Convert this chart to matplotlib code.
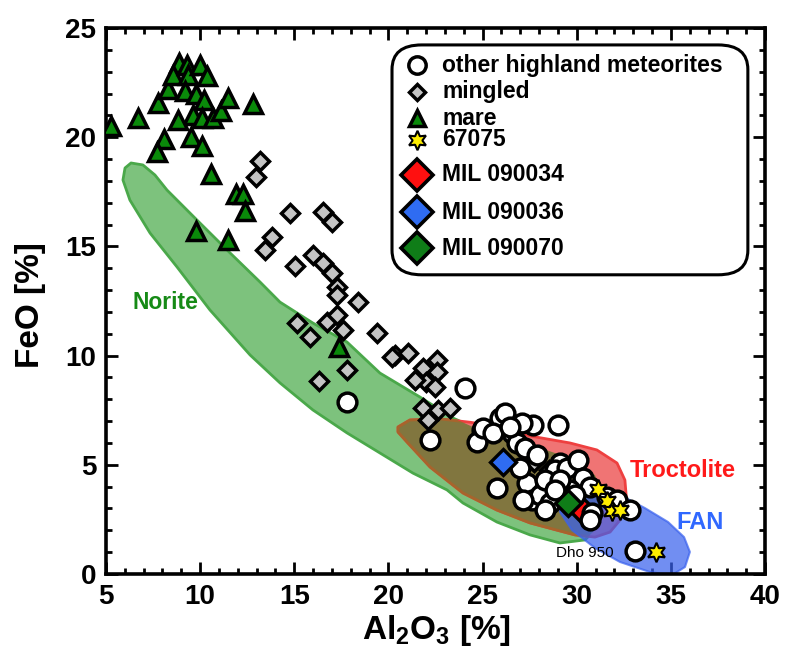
import numpy as np
import matplotlib
matplotlib.use("Agg")
import matplotlib.pyplot as plt
from matplotlib.patches import Polygon, FancyBboxPatch
from matplotlib.ticker import MultipleLocator

plt.rcParams['font.family'] = ['Liberation Sans', 'DejaVu Sans']
plt.rcParams['mathtext.fontset'] = 'custom'
plt.rcParams['mathtext.rm'] = 'Liberation Sans:bold'
plt.rcParams['mathtext.bf'] = 'Liberation Sans:bold'
plt.rcParams['mathtext.it'] = 'Liberation Sans:bold'

# ---- field outlines (Al2O3 %, FeO %) ----
norite_al = [6.33, 6.96, 7.60, 8.24, 9.99, 11.59, 13.18, 14.24, 15.99, 17.80, 19.55,
             21.68, 23.43, 24.86, 26.46, 28.05, 29.64, 30.97, 31.50, 31.23, 30.44,
             29.11, 27.52, 25.76, 23.96, 23.11, 21.30, 19.55, 17.80, 15.99, 14.24,
             12.65, 10.52, 8.77, 7.34, 6.27, 5.90, 6.01]
norite_fe = [18.82, 18.73, 18.27, 17.58, 16.07, 14.70, 13.37, 12.45, 11.49, 10.62, 9.20,
             8.10, 7.14, 6.59, 6.14, 5.77, 5.31, 4.53, 3.39, 2.24, 1.56,
             1.42, 1.79, 2.38, 3.25, 3.85, 4.62, 5.54, 6.46, 7.51, 8.75,
             10.03, 12.09, 14.06, 15.61, 17.12, 18.04, 18.59]

troct_al = [20.51, 21.14, 22.74, 24.33, 25.92, 27.52, 29.64, 31.07, 32.14, 32.56, 32.66,
            32.30, 31.77, 30.97, 29.91, 28.95, 27.52, 25.76, 23.96, 22.21, 20.99, 20.51]
troct_fe = [6.73, 7.05, 7.10, 6.95, 6.72, 6.32, 6.00, 5.68, 5.08, 4.30, 3.25,
            2.47, 1.92, 1.69, 1.79, 2.01, 2.34, 2.93, 3.71, 4.90, 6.04, 6.50]

fan_al = [29.91, 30.97, 32.30, 33.62, 34.85, 35.70, 36.01, 35.75, 35.06, 33.89, 32.30,
          30.97, 29.75, 29.11, 29.27]
fan_fe = [4.08, 3.94, 3.62, 3.02, 2.38, 1.69, 1.01, 0.32, -0.05, 0.09, 0.55,
          1.19, 2.01, 2.84, 3.62]

# ---- samples ----
mare_al = [5.25, 6.7, 7.78, 8.3, 8.9, 8.57, 9.3, 9.37, 10.0, 10.35, 9.2, 9.8, 10.2, 9.6,
           10.1, 10.7, 11.1, 11.5, 12.8, 8.8, 8.1, 7.7, 9.5, 10.1, 10.6, 11.9, 12.3,
           12.4, 9.8, 11.5, 17.4]
mare_fe = [20.5, 20.9, 21.55, 22.2, 23.4, 22.85, 23.3, 22.85, 23.3, 22.8, 22.1, 22.0, 21.7,
           21.0, 20.9, 20.9, 21.2, 21.8, 21.5, 20.8, 19.9, 19.3, 20.0, 19.6, 18.3, 17.4,
           17.4, 16.6, 15.7, 15.3, 10.4]

mingled_al = [13.18, 12.97, 14.77, 16.54, 16.98, 13.80, 13.44, 15.04, 16.01, 16.54, 16.98,
              17.25, 17.25, 18.40, 16.72, 17.25, 17.60, 15.13, 15.83, 19.37, 16.33, 17.78,
              20.35, 21.05, 20.17, 21.85, 22.56, 22.56, 22.02, 21.41, 22.47, 21.85, 22.65,
              23.27, 22.11, 27.73, 28.54]
mingled_fe = [18.92, 18.19, 16.52, 16.59, 16.13, 15.44, 14.84, 14.10, 14.61, 14.23, 13.77,
              13.15, 12.77, 12.47, 11.55, 11.86, 11.17, 11.48, 10.87, 11.02, 8.85, 9.34,
              10.03, 10.11, 9.95, 9.42, 9.80, 9.26, 8.81, 8.88, 8.58, 7.59, 7.51,
              7.59, 7.05, 5.14, 4.76]

highland_al = [17.78, 22.21, 24.07, 24.95, 24.69, 25.04, 25.92, 26.19, 25.57, 26.54, 26.81,
               27.25, 27.69, 29.02, 27.07, 25.74, 27.34, 27.61, 28.05, 27.16, 29.11, 28.84,
               29.46, 30.08, 30.35, 29.64, 29.11, 28.58, 28.31, 30.79, 31.59, 32.12,
               30.70, 26.46, 30.70, 32.83, 33.09, 27.9, 27.0, 28.3, 29.1, 28.85, 29.9]
highland_fe = [7.89, 6.14, 8.50, 6.59, 6.06, 6.67, 7.13, 7.36, 6.44, 6.44, 5.98,
               5.76, 6.82, 6.82, 6.90, 3.92, 4.15, 3.39, 3.62, 3.39, 5.07, 4.76,
               4.84, 5.22, 4.38, 3.85, 3.47, 3.24, 2.93, 2.78, 3.54, 3.39,
               4.00, 6.75, 2.47, 2.93, 1.07, 5.45, 4.85, 4.30, 4.30, 3.85, 3.60]

s67075_al = [31.14, 31.59, 31.86, 32.30, 34.19]
s67075_fe = [3.88, 3.34, 2.90, 2.93, 0.99]

mil034 = (30.22, 2.98)
mil036 = (26.10, 5.14)
mil070 = (29.55, 3.24)

xticks = [5, 10, 15, 20, 25, 30, 35, 40]
yticks = [0, 5, 10, 15, 20, 25]

# ---- figure ----
fig = plt.figure(figsize=(7.85, 6.61), dpi=100)
ax = fig.add_axes([106 / 785, 1 - 574 / 661, 659 / 785, 546 / 661])
ax.set_xlim(5, 40)
ax.set_ylim(0, 25)

nor = Polygon(np.column_stack([norite_al, norite_fe]), closed=True,
              fc='#7dc27d', ec='#4aa84a', lw=2, joinstyle='round', zorder=1)
ax.add_patch(nor)
tro = Polygon(np.column_stack([troct_al, troct_fe]), closed=True,
              fc='#f07474', ec='#ee4040', lw=2, joinstyle='round', zorder=1.5)
ax.add_patch(tro)
tro_in = Polygon(np.column_stack([troct_al, troct_fe]), closed=True,
                 fc='#81763f', ec='#a8642c', lw=2, joinstyle='round', zorder=1.6)
ax.add_patch(tro_in)
tro_in.set_clip_path(nor)
fan = Polygon(np.column_stack([fan_al, fan_fe]), closed=True,
              fc='#3a62ee', ec='#3a62ee', lw=1.5, alpha=0.72, joinstyle='round', zorder=1.7)
ax.add_patch(fan)

ax.plot(mingled_al, mingled_fe, 'D', ms=9.2, mfc='#c4c4c4', mec='black', mew=2.5, ls='none', zorder=3)
ax.plot(mare_al, mare_fe, '^', ms=13, mfc='#0a8a0a', mec='black', mew=2.5, ls='none', zorder=3.2)
ax.plot(*mil034, 'D', ms=13, mfc='#ff1010', mec='black', mew=2.4, zorder=3.5)
ax.plot(highland_al, highland_fe, 'o', ms=13.5, mfc='white', mec='black', mew=2.5, ls='none', zorder=4)
ax.plot(s67075_al, s67075_fe, marker=(6, 1, 0), ms=14, mfc='#ffee00', mec='black', mew=1.5,
        ls='none', zorder=5)
ax.plot(*mil036, 'D', ms=13, mfc='#2f6cf2', mec='black', mew=2.4, zorder=5)
ax.plot(*mil070, 'D', ms=13, mfc='#0f7d18', mec='black', mew=2.4, zorder=5)

# field names
ax.text(6.43, 12.45, 'Norite', color='#168a16', fontsize=16.5, fontweight='bold',
        ha='left', va='center', zorder=6)
ax.text(32.83, 4.76, 'Troctolite', color='#ff1a1a', fontsize=17, fontweight='bold',
        ha='left', va='center', zorder=6)
ax.text(35.27, 2.38, 'FAN', color='#3068ff', fontsize=17, fontweight='bold',
        ha='left', va='center', zorder=6)
ax.text(28.9, 0.96, 'Dho 950', color='black', fontsize=11, ha='left', va='center', zorder=6)

# axes styling
ax.set_xticks(xticks)
ax.set_yticks(yticks)
ax.xaxis.set_minor_locator(MultipleLocator(1))
ax.yaxis.set_minor_locator(MultipleLocator(1))
ax.tick_params(which='both', direction='in', top=True, right=True, width=2.0,
               labelsize=20, pad=7)
ax.tick_params(which='major', length=8.5)
ax.tick_params(which='minor', length=4.3)
for lbl in ax.get_xticklabels() + ax.get_yticklabels():
    lbl.set_fontweight('bold')
for sp in ax.spines.values():
    sp.set_linewidth(2.6)

fig.text(30 / 785, 1 - 305 / 661, 'FeO [%]', rotation=90, fontsize=24, fontweight='bold',
         ha='center', va='center')
fig.text(436 / 785, 1 - 630 / 661, r'Al$_\mathrm{2}$O$_\mathrm{3}$ [%]', fontsize=24,
         fontweight='bold', ha='center', va='center')

# legend box
box = FancyBboxPatch((0.434, 0.548), 0.540, 0.421, boxstyle='round,pad=0,rounding_size=0.045',
                     transform=ax.transAxes, fc='white', ec='black', lw=2.2, zorder=7)
ax.add_patch(box)
mx, tx = 0.472, 0.510
entries = [
    (0.932, 'other highland meteorites', dict(marker='o', ms=12.5, mfc='white', mew=2.5)),
    (0.883, 'mingled', dict(marker='D', ms=8.5, mfc='#c4c4c4', mew=2.5)),
    (0.835, 'mare', dict(marker='^', ms=11.5, mfc='#0a8a0a', mew=2.5)),
    (0.795, '67075', dict(marker=(6, 1, 0), ms=14, mfc='#ffee00', mew=1.5)),
    (0.731, 'MIL 090034', dict(marker='D', ms=16, mfc='#ff1010', mew=2.6)),
    (0.663, 'MIL 090036', dict(marker='D', ms=16, mfc='#2f6cf2', mew=2.6)),
    (0.597, 'MIL 090070', dict(marker='D', ms=16, mfc='#0f7d18', mew=2.6)),
]
for y, label, style in entries:
    ax.plot([mx], [y], transform=ax.transAxes, mec='black', ls='none', clip_on=False,
            zorder=8, **style)
    ax.text(tx, y, label, transform=ax.transAxes, fontsize=16.5, fontweight='bold',
            ha='left', va='center', zorder=8)

fig.savefig('out.png', dpi=100)
